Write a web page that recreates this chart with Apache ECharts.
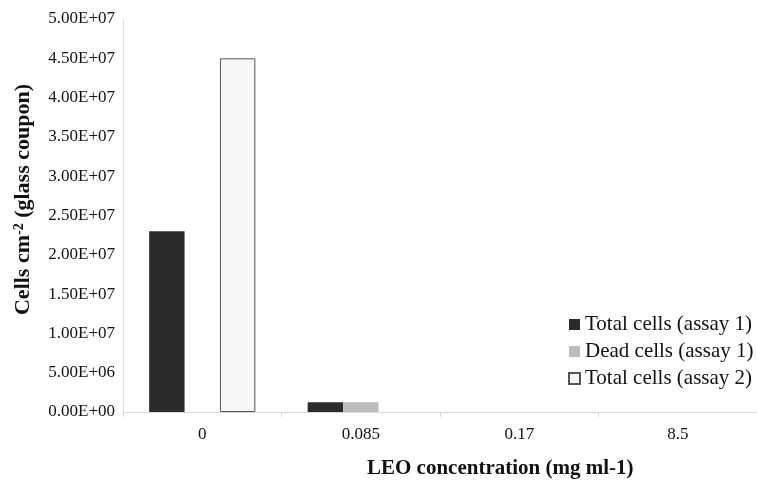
<!DOCTYPE html>
<html><head><meta charset="utf-8">
<script src="https://cdn.jsdelivr.net/npm/echarts@6/dist/echarts.min.js"></script>
<style>html,body{margin:0;padding:0;background:#fff}#c{width:757px;height:480px}</style>
</head><body><div id="c"></div>
<script>
var categories = ['0', '0.085', '0.17', '8.5'];
var totalAssay1 = [23000000, 1250000, 0, 0];
var deadAssay1 = [0, 1250000, 0, 0];
var totalAssay2 = [45000000, null, null, null];
var seriesNames = ['Total cells (assay 1)', 'Dead cells (assay 1)', 'Total cells (assay 2)'];

var chart = echarts.init(document.getElementById('c'));
var serif = '"Liberation Serif", "DejaVu Serif", serif';
function fmt(v) {
  var s = Number(v).toExponential(2).toUpperCase();
  return s.replace(/E([+-])(\d)$/, 'E$10$2');
}
chart.setOption({
  animation: false,
  textStyle: {fontFamily: serif},
  title: {
    text: 'LEO concentration (mg ml-1)',
    left: 362, top: 453,
    textStyle: {fontFamily: serif, fontSize: 21, fontWeight: 'bold', color: '#111'}
  },
  legend: {
    orient: 'vertical',
    left: 563, top: 309,
    icon: 'rect',
    itemWidth: 11, itemHeight: 11, itemGap: 6,
    textStyle: {fontFamily: serif, fontSize: 21, color: '#111'},
    data: seriesNames
  },
  grid: {left: 123, right: -10, top: 19, bottom: 68, containLabel: false},
  xAxis: {
    type: 'category', data: categories,
    axisLine: {lineStyle: {color: '#d8d8d8'}},
    axisTick: {show: true, length: 5, lineStyle: {color: '#d8d8d8'}},
    axisLabel: {fontFamily: serif, fontSize: 17, color: '#111', margin: 14}
  },
  yAxis: {
    type: 'value', min: 0, max: 50000000, interval: 5000000,
    name: '{b|Cells cm}{s|-2}{b| (glass coupon)}',
    nameLocation: 'middle', nameRotate: 90, nameGap: 88,
    nameTextStyle: {
      padding: [0, 0, 0, 32],
      rich: {
        b: {fontFamily: serif, fontSize: 22, fontWeight: 'bold', color: '#111'},
        s: {fontFamily: serif, fontSize: 14, fontWeight: 'bold', color: '#111', verticalAlign: 'top', padding: [0, 0, 9, 0]}
      }
    },
    axisLine: {show: true, lineStyle: {color: '#e0e0e0'}},
    axisTick: {show: false},
    splitLine: {show: false},
    axisLabel: {fontFamily: serif, fontSize: 17, color: '#111', margin: 8, formatter: fmt}
  },
  series: [
    {name: seriesNames[0], type: 'bar', data: totalAssay1, barGap: '0%', barCategoryGap: '33%',
     itemStyle: {color: '#2b2b2b'}},
    {name: seriesNames[1], type: 'bar', data: deadAssay1,
     itemStyle: {color: '#bcbcbc'}},
    {name: seriesNames[2], type: 'bar', data: totalAssay2,
     itemStyle: {color: '#f7f7f7', borderColor: '#555', borderWidth: 1}}
  ]
});
</script></body></html>
